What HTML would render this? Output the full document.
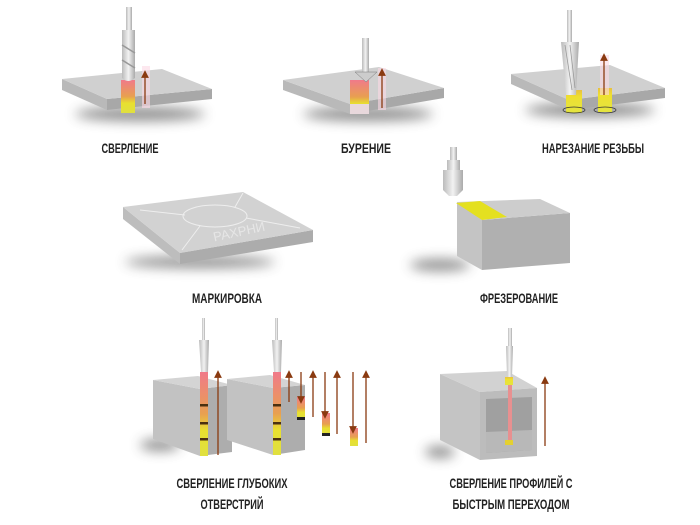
<!DOCTYPE html>
<html><head><meta charset="utf-8"><style>
body{margin:0;background:#fff;}
svg{display:block}
text{font-family:"Liberation Sans Narrow","Liberation Sans",sans-serif;font-weight:bold;font-size:14px;fill:#222;text-anchor:middle}
</style></head><body>
<svg width="700" height="525" viewBox="0 0 700 525" xmlns="http://www.w3.org/2000/svg">
<defs>
<linearGradient id="hot" x1="0" y1="0" x2="0" y2="1"><stop offset="0" stop-color="#f07a8a"/><stop offset=".5" stop-color="#e8a050"/><stop offset=".7" stop-color="#e8e030"/><stop offset="1" stop-color="#e0e040"/></linearGradient>
<linearGradient id="yel" x1="0" y1="0" x2="0" y2="1"><stop offset="0" stop-color="#e8c040"/><stop offset=".3" stop-color="#eee030"/><stop offset="1" stop-color="#e4e440"/></linearGradient>
<linearGradient id="metal" x1="0" y1="0" x2="1" y2="0"><stop offset="0" stop-color="#bbb"/><stop offset=".5" stop-color="#f2f2f2"/><stop offset="1" stop-color="#aaa"/></linearGradient>
<filter id="blur"><feGaussianBlur stdDeviation="6"/></filter>
<marker id="ar" markerWidth="6" markerHeight="6" refX="3" refY="3" orient="auto"><path d="M0,0L6,3L0,6z" fill="#8a3a10"/></marker>
</defs>
<style>.arr{stroke:#8a3a10;stroke-width:1.3;marker-end:url(#ar)}.glow{fill:#fbd8e4;opacity:.6}</style>

<!-- shadows -->
<g filter="url(#blur)" fill="#444" opacity=".6">
<ellipse cx="140" cy="114" rx="65" ry="7"/><ellipse cx="368" cy="114" rx="65" ry="7"/><ellipse cx="590" cy="110" rx="65" ry="7"/>
<ellipse cx="200" cy="262" rx="75" ry="6"/><ellipse cx="440" cy="265" rx="30" ry="6"/>
<ellipse cx="160" cy="445" rx="20" ry="6"/><ellipse cx="440" cy="452" rx="15" ry="6"/>
</g>

<!-- Plate 1 -->
<polygon points="62,79 107,99 107,110 62,90" fill="#b9b9b9"/>
<polygon points="107,99 212,89 212,99 107,110" fill="#a8a8a8"/>
<polygon points="62,79 162,69 212,89 107,99" fill="#d0d0d0"/>
<rect x="142" y="66" width="8" height="42" class="glow"/>
<rect x="121" y="80" width="14" height="33" fill="url(#hot)"/>
<rect x="126" y="7" width="6" height="24" fill="url(#metal)"/>
<path d="M122,30 L135,30 L135,78 Q128,84 122,78 Z" fill="url(#metal)"/>
<path d="M122,45 L135,53 M122,60 L135,68" stroke="#999" stroke-width="1.5"/>
<line x1="145" y1="104" x2="145" y2="74" class="arr"/>

<!-- Plate 2 -->
<polygon points="283,80 350,104 350,114 283,90" fill="#b9b9b9"/>
<polygon points="350,104 444,88 444,98 350,114" fill="#a8a8a8"/>
<polygon points="283,80 379,67 444,88 350,104" fill="#d0d0d0"/>
<rect x="350" y="80" width="19" height="34" fill="url(#hot)"/>
<rect x="350" y="104" width="19" height="10" fill="#e8d8dc"/>
<rect x="378" y="68" width="8" height="42" class="glow"/>
<rect x="362" y="38" width="7" height="34" fill="url(#metal)"/>
<path d="M355,72 L377,72 L366,82 Z" fill="#ccc" stroke="#777" stroke-width=".5"/>
<line x1="382" y1="108" x2="382" y2="72" class="arr"/>

<!-- Plate 3 -->
<polygon points="511,74 569,100 569,110 511,84" fill="#b9b9b9"/>
<polygon points="569,100 665,88 665,98 569,110" fill="#a8a8a8"/>
<polygon points="511,74 610,65 665,88 569,100" fill="#d0d0d0"/>
<rect x="566" y="90" width="16" height="23" fill="url(#yel)"/>
<rect x="598" y="88" width="14" height="24" fill="url(#yel)"/>
<rect x="600" y="55" width="9" height="40" class="glow"/>
<ellipse cx="574" cy="110" rx="11" ry="3" fill="none" stroke="#333" stroke-width=".7"/>
<ellipse cx="605" cy="110" rx="11" ry="3" fill="none" stroke="#333" stroke-width=".7"/>
<rect x="567" y="10" width="5" height="32" fill="url(#metal)"/>
<path d="M561,42 L579,42 L576,95 L566,95 Z" fill="url(#metal)"/>
<path d="M565,45 L572,90 M570,45 L575,88" stroke="#999" stroke-width=".8"/>
<line x1="604" y1="95" x2="604" y2="57" class="arr"/>

<text x="130" y="153" textLength="57" lengthAdjust="spacingAndGlyphs">СВЕРЛЕНИЕ</text>
<text x="366" y="153" textLength="50" lengthAdjust="spacingAndGlyphs">БУРЕНИЕ</text>
<text x="593" y="153" textLength="102" lengthAdjust="spacingAndGlyphs">НАРЕЗАНИЕ РЕЗЬБЫ</text>

<!-- Marking plate -->
<polygon points="123,207 180,253 180,264 123,219" fill="#bdbdbd"/>
<polygon points="180,253 313,230 313,242 180,264" fill="#acacac"/>
<polygon points="123,207 243,192 313,230 180,253" fill="#d2d2d2"/>
<g stroke="#eee" stroke-width="1" fill="none">
<ellipse cx="215" cy="216" rx="32" ry="11"/>
<path d="M140,210 L185,215 M243,193 L235,207 M246,218 L300,228 M200,226 L182,250"/>
</g>
<text x="240" y="236" transform="rotate(-12 240 236)" style="fill:#e6e6e6;font-weight:normal;font-size:13px">РАХРНИ</text>

<!-- Milling block -->
<polygon points="457,202 482,220 482,270 457,256" fill="#c4c4c4"/>
<polygon points="482,220 570,213 570,263 482,270" fill="#b0b0b0"/>
<polygon points="457,202 540,199 570,213 482,220" fill="#cdcdcd"/>
<polygon points="456,203 480,201 507,217 482,220" fill="#e4e020"/>
<rect x="450" y="147" width="7" height="15" fill="url(#metal)"/>
<rect x="447" y="160" width="13" height="10" fill="url(#metal)"/>
<path d="M443,170 L463,170 L463,190 L457,196 L449,196 L443,190 Z" fill="url(#metal)"/>

<text x="227" y="303" textLength="70" lengthAdjust="spacingAndGlyphs">МАРКИРОВКА</text>
<text x="519" y="303" textLength="78" lengthAdjust="spacingAndGlyphs">ФРЕЗЕРОВАНИЕ</text>

<!-- Deep block A -->
<polygon points="153,380 200,389 200,456 153,439" fill="#c2c2c2"/>
<polygon points="200,389 232,385 232,452 200,456" fill="#adadad"/>
<polygon points="153,380 198,376 232,385 200,389" fill="#d4d4d4"/>
<rect x="200" y="372" width="8" height="84" fill="url(#hot)"/>
<g fill="#4a3010"><rect x="200" y="404" width="8" height="2.5"/><rect x="200" y="422" width="8" height="2.5"/><rect x="200" y="438" width="8" height="2.5"/></g>
<rect x="202" y="318" width="3" height="22" fill="url(#metal)"/>
<path d="M199,340 L209,340 L208,372 L201,372 Z" fill="url(#metal)"/>
<line x1="218" y1="455" x2="218" y2="374" class="arr"/>

<!-- Deep block B -->
<polygon points="227,379 273,388 273,455 227,440" fill="#c2c2c2"/>
<polygon points="273,388 305,385 305,450 273,455" fill="#adadad"/>
<polygon points="227,379 270,375 305,385 273,388" fill="#d4d4d4"/>
<rect x="273" y="372" width="8" height="83" fill="url(#hot)"/>
<g fill="#4a3010"><rect x="273" y="404" width="8" height="2.5"/><rect x="273" y="422" width="8" height="2.5"/><rect x="273" y="438" width="8" height="2.5"/></g>
<rect x="275" y="318" width="3" height="22" fill="url(#metal)"/>
<path d="M272,340 L282,340 L281,372 L274,372 Z" fill="url(#metal)"/>
<rect x="297" y="397" width="8" height="22" fill="url(#hot)"/><rect x="297" y="417" width="8" height="3" fill="#222"/>
<rect x="322" y="413" width="8" height="22" fill="url(#hot)"/><rect x="322" y="433" width="8" height="3" fill="#222"/>
<rect x="350" y="428" width="8" height="18" fill="url(#hot)"/>
<line x1="289" y1="402" x2="289" y2="374" class="arr"/>
<line x1="301" y1="372" x2="301" y2="400" class="arr"/>
<line x1="313" y1="417" x2="313" y2="374" class="arr"/>
<line x1="325" y1="372" x2="325" y2="415" class="arr"/>
<line x1="337" y1="434" x2="337" y2="374" class="arr"/>
<line x1="353" y1="372" x2="353" y2="430" class="arr"/>
<line x1="366" y1="443" x2="366" y2="374" class="arr"/>

<!-- Profile tube -->
<polygon points="440,374 480,392 480,460 440,440" fill="#c4c4c4"/>
<polygon points="440,374 507,371 537,388 480,392" fill="#d2d2d2"/>
<polygon points="480,392 537,388 537,456 480,460" fill="#bcbcbc"/>
<polygon points="486,399 532,397 532,450 486,453" fill="#a0a0a0"/>
<polygon points="486,432 532,430 532,450 486,453" fill="#b8b8b8"/>
<rect x="508" y="385" width="4" height="58" fill="#e89090"/>
<rect x="505" y="377" width="8" height="8" fill="url(#yel)"/>
<rect x="505" y="440" width="8" height="5" fill="#e4d030"/>
<rect x="508" y="328" width="4" height="18" fill="url(#metal)"/>
<path d="M506,346 L513,346 L512,377 L507,377 Z" fill="url(#metal)"/>
<line x1="545" y1="446" x2="545" y2="380" class="arr"/>

<text x="232" y="488" textLength="111" lengthAdjust="spacingAndGlyphs">СВЕРЛЕНИЕ ГЛУБОКИХ</text>
<text x="232" y="509" textLength="63" lengthAdjust="spacingAndGlyphs">ОТВЕРСТРИЙ</text>
<text x="511" y="488" textLength="123" lengthAdjust="spacingAndGlyphs">СВЕРЛЕНИЕ ПРОФИЛЕЙ С</text>
<text x="511" y="509" textLength="117" lengthAdjust="spacingAndGlyphs">БЫСТРЫМ ПЕРЕХОДОМ</text>
</svg>
</body></html>
